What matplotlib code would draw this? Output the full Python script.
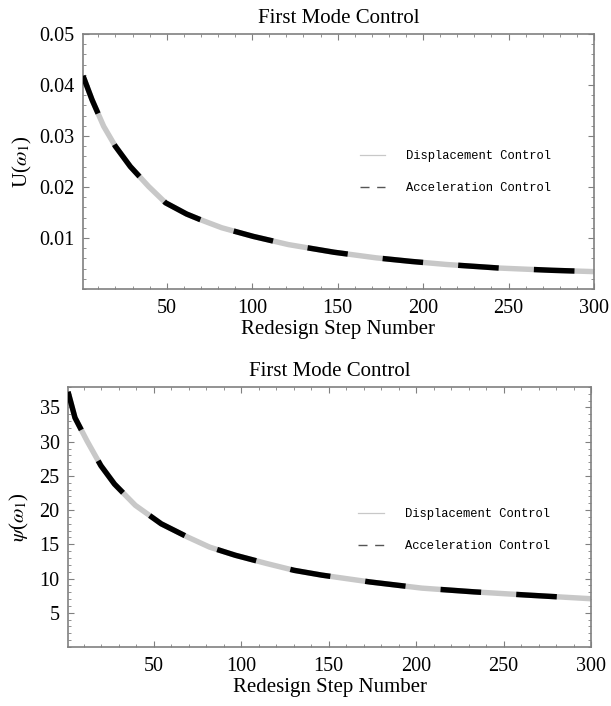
import numpy as np
import matplotlib
matplotlib.use("Agg")
import matplotlib.pyplot as plt
from matplotlib.lines import Line2D
from matplotlib.ticker import MultipleLocator

plt.rcParams['font.family'] = ['Liberation Serif', 'DejaVu Serif']
plt.rcParams['mathtext.fontset'] = 'stix'

# top panel: U(omega_1) vs redesign step
step_u = [1, 6.3, 13.1, 19.9, 28.7, 39.4, 49.3, 61.6, 69.6, 82.2, 100.7, 121.2,
          147.9, 172.6, 193.1, 213.7, 244.5, 275.3, 300]
u_disp = [0.0418, 0.0371, 0.0319, 0.0280, 0.0240, 0.0201, 0.0169, 0.0147, 0.0136,
          0.0120, 0.0103, 0.0087, 0.0072, 0.0061, 0.0054, 0.0048, 0.0041, 0.00366, 0.0034]
u_acc = list(u_disp)

# bottom panel: psi(omega_1) vs redesign step
step_p = [1, 5, 11.9, 19.8, 27.6, 39.5, 54.3, 69.1, 81.9, 96.7, 114.5, 130.3,
          146.1, 173.7, 203.3, 232.9, 262.5, 300]
p_disp = [37.3, 33.5, 30.1, 26.5, 23.8, 20.7, 18.0, 16.1, 14.6, 13.4, 12.2, 11.2,
          10.5, 9.5, 8.6, 8.06, 7.6, 7.05]
p_acc = list(p_disp)

title = "First Mode Control"
xlabel = "Redesign Step Number"
legend_labels = ["Displacement Control", "Acceleration Control"]

fig = plt.figure(figsize=(6.11, 7.06), dpi=100)
ax1 = fig.add_axes([0.1358, 0.5907, 0.8364, 0.3612])
ax2 = fig.add_axes([0.1113, 0.0836, 0.8560, 0.3683])

spine_col = '#808080'


def style_axes(ax, ymajor, yminor):
    ax.xaxis.set_major_locator(MultipleLocator(50))
    ax.xaxis.set_minor_locator(MultipleLocator(10))
    ax.yaxis.set_major_locator(MultipleLocator(ymajor))
    ax.yaxis.set_minor_locator(MultipleLocator(yminor))
    ax.tick_params(which='both', direction='in', top=True, right=True,
                   color=spine_col, labelsize=14.5)
    ax.tick_params(axis='x', pad=7)
    ax.tick_params(axis='y', pad=6)
    ax.tick_params(which='major', length=4, width=0.8)
    ax.tick_params(which='minor', length=2, width=0.6)
    for s in ax.spines.values():
        s.set_color(spine_col)
        s.set_linewidth(1.2)


def draw(ax, x, yd, ya):
    ax.plot(x, yd, color='#c8c8c8', lw=3.9, solid_capstyle='butt', zorder=2)
    ax.plot(x, ya, color='black', lw=3.9, dashes=(7.5, 6.5), dash_capstyle='butt', zorder=3)


draw(ax1, step_u, u_disp, u_acc)
ax1.set_xlim(1, 300)
ax1.set_ylim(0, 0.05)
style_axes(ax1, 0.01, 0.002)
ax1.set_xticks([50, 100, 150, 200, 250, 300])
ax1.set_yticks([0.01, 0.02, 0.03, 0.04, 0.05])
ax1.set_title(title, fontsize=15, pad=8)
ax1.set_xlabel(xlabel, fontsize=15, labelpad=2)
ax1.set_ylabel(r'U($\omega_1$)', fontsize=15, labelpad=4)

draw(ax2, step_p, p_disp, p_acc)
ax2.set_xlim(1, 300)
ax2.set_ylim(0, 38)
style_axes(ax2, 5, 1)
ax2.set_xticks([50, 100, 150, 200, 250, 300])
ax2.set_yticks([5, 10, 15, 20, 25, 30, 35])
ax2.set_title(title, fontsize=15, pad=8)
ax2.set_xlabel(xlabel, fontsize=15, labelpad=2)
ax2.set_ylabel(r'$\psi$($\omega_1$)', fontsize=15, labelpad=6)

handles = [Line2D([], [], color='#c8c8c8', lw=0.9),
           Line2D([], [], color='#555555', lw=1.0, dashes=(6.5, 5.5))]
for ax, anchor in [(ax1, (0.542, 0.545)), (ax2, (0.555, 0.535))]:
    ax.legend(handles, legend_labels, loc='upper left', bbox_to_anchor=anchor,
              frameon=False, handlelength=2.1, handletextpad=1.75, labelspacing=1.65,
              borderpad=0, borderaxespad=0,
              prop={'family': 'Liberation Mono', 'size': 8.7})

fig.savefig('out.png', dpi=100)
